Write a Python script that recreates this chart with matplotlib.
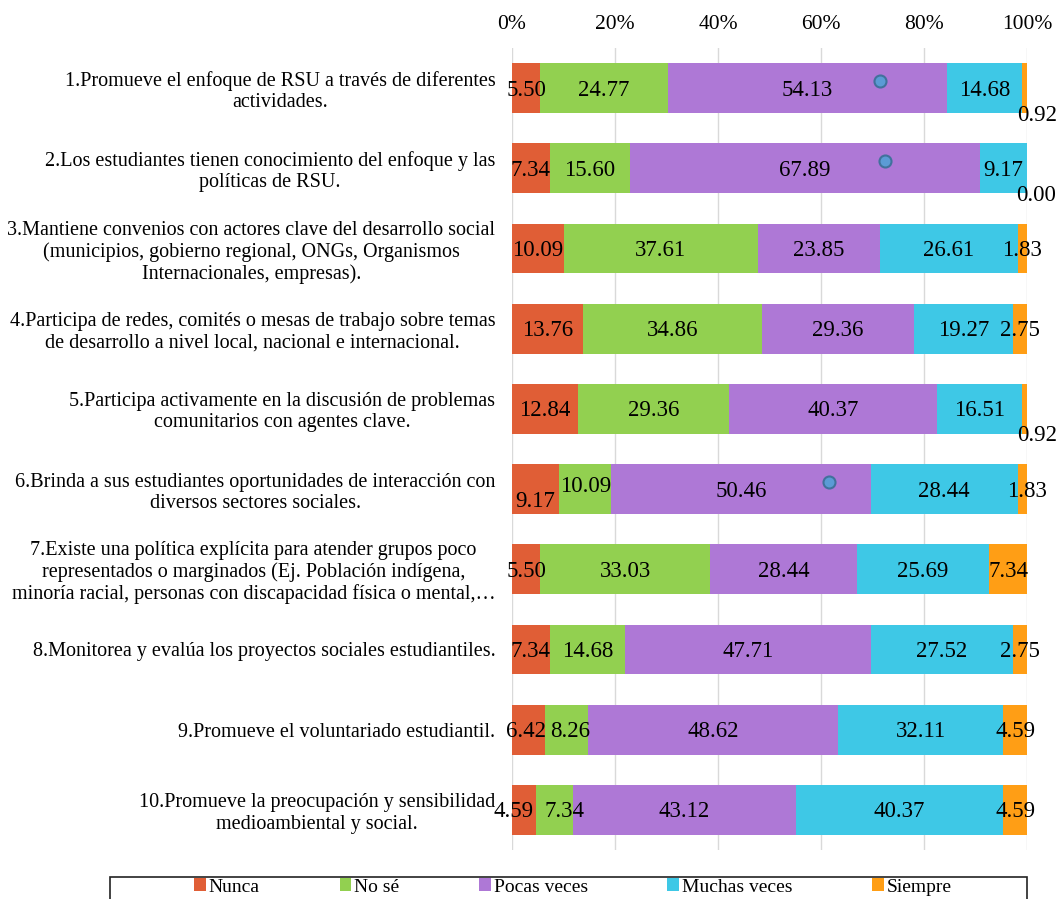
import matplotlib
matplotlib.use("Agg")
import matplotlib.pyplot as plt
from matplotlib.patches import Rectangle
import numpy as np

plt.rcParams['font.family'] = ['Liberation Serif', 'DejaVu Serif']

categories = [
    "1.Promueve el enfoque de RSU a través de diferentes\nactividades.",
    "2.Los estudiantes tienen conocimiento del enfoque y las\npolíticas de RSU.",
    "3.Mantiene convenios con actores clave del desarrollo social\n(municipios, gobierno regional, ONGs, Organismos\nInternacionales, empresas).",
    "4.Participa de redes, comités o mesas de trabajo sobre temas\nde desarrollo a nivel local, nacional e internacional.",
    "5.Participa activamente en la discusión de problemas\ncomunitarios con agentes clave.",
    "6.Brinda a sus estudiantes oportunidades de interacción con\ndiversos sectores sociales.",
    "7.Existe una política explícita para atender grupos poco\nrepresentados o marginados (Ej. Población indígena,\nminoría racial, personas con discapacidad física o mental,…",
    "8.Monitorea y evalúa los proyectos sociales estudiantiles.",
    "9.Promueve el voluntariado estudiantil.",
    "10.Promueve la preocupación y sensibilidad\nmedioambiental y social.",
]
series_names = ["Nunca", "No sé", "Pocas veces", "Muchas veces", "Siempre"]
nunca = [5.50, 7.34, 10.09, 13.76, 12.84, 9.17, 5.50, 7.34, 6.42, 4.59]
no_se = [24.77, 15.60, 37.61, 34.86, 29.36, 10.09, 33.03, 14.68, 8.26, 7.34]
pocas = [54.13, 67.89, 23.85, 29.36, 40.37, 50.46, 28.44, 47.71, 48.62, 43.12]
muchas = [14.68, 9.17, 26.61, 19.27, 16.51, 28.44, 25.69, 27.52, 32.11, 40.37]
siempre = [0.92, 0.00, 1.83, 2.75, 0.92, 1.83, 7.34, 2.75, 4.59, 4.59]
tick_labels = ["0%", "20%", "40%", "60%", "80%", "100%"]

# small decorative circles seen in the reference (row index, x in %)
dot_rows = [0, 1, 5]
dot_x = [71.5, 72.5, 61.5]

colors = ["#E05E36", "#92D050", "#AE78D6", "#3EC8E6", "#FF9E15"]
# label nudges in pixels (dx, dy downward) for (row, series)
nudges = {(0, 4): (12, 25), (1, 4): (9, 25), (4, 4): (12, 25),
          (5, 0): (0, 10), (5, 1): (0, -5), (5, 4): (5, 0),
          (8, 0): (-3, 0), (8, 1): (4, 0),
          (9, 0): (-10, 0), (9, 1): (10, 0)}

data = [nunca, no_se, pocas, muchas, siempre]

fig = plt.figure(figsize=(10.6, 8.99), dpi=100)
ax = fig.add_axes([512/1060, 1-850/899, (1027-512)/1060, (850-48)/899])

y = np.arange(len(categories))
left = np.zeros(len(categories))
handles = []
for si, (vals, c) in enumerate(zip(data, colors)):
    vals = np.array(vals)
    bars = ax.barh(y, vals, left=left, height=0.62, color=c, label=series_names[si],
                   zorder=2, edgecolor='none')
    handles.append(bars)
    for ri, v in enumerate(vals):
        dx, dy = nudges.get((ri, si), (0, 0))
        ax.annotate(f"{v:.2f}", (left[ri] + v/2, ri),
                    xytext=(dx*0.72, -dy*0.72 - 1.5), textcoords='offset points',
                    ha='center', va='center', fontsize=16.5, color='black',
                    zorder=4, annotation_clip=False)
    left += vals

ax.scatter(dot_x, np.array(dot_rows) - 0.09, s=75, facecolor="#5B9BD5",
           edgecolor="#41719C", linewidth=1.5, zorder=3)

ax.set_xlim(0, 100)
ax.set_ylim(len(categories) - 0.5, -0.5)
ax.set_xticks(np.arange(0, 101, 20))
ax.set_xticklabels(tick_labels, fontsize=15.5)
ax.xaxis.tick_top()
ax.tick_params(axis='x', length=0, pad=10)
ax.set_yticks(y)
ax.set_yticklabels(categories, fontsize=14.5, multialignment='center',
                   linespacing=1.15)
ax.tick_params(axis='y', length=0, pad=12)
ax.grid(axis='x', color='#D9D9D9', linewidth=1, zorder=0)
ax.set_axisbelow(True)
for s in ax.spines.values():
    s.set_visible(False)

# legend frame (extends past the bottom edge as in the reference)
fig.patches.append(Rectangle((110/1060, -0.02), (1027-110)/1060, 0.02 + 1-877/899,
                             transform=fig.transFigure, fill=False,
                             edgecolor='#222222', linewidth=1.2))
leg = fig.legend(handles, series_names, loc='center', bbox_to_anchor=(573/1060, 1-887/899),
                 ncol=5, fontsize=14, frameon=False, handlelength=0.6, handleheight=0.6,
                 handletextpad=0.15, columnspacing=4.1, borderaxespad=0, borderpad=0)

fig.savefig("out.png", dpi=100)
